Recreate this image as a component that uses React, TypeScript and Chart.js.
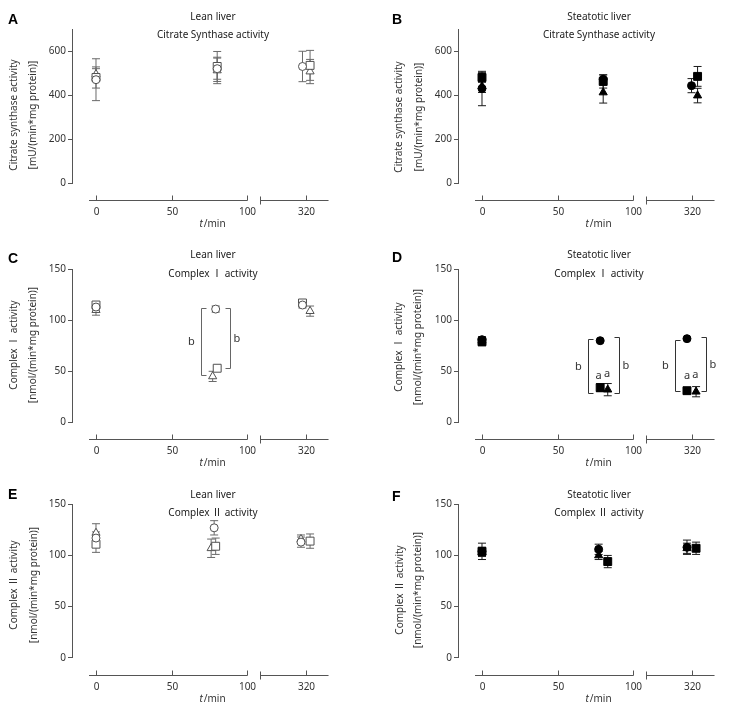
import React, { useEffect, useRef } from 'react';
import { Chart, registerables, LinearScale } from 'chart.js';

// ---------------- data ----------------
const TIME_TICKS = [0, 50, 100, 320];
const CS_TICKS = [0, 200, 400, 600];
const COMPLEX_TICKS = [0, 50, 100, 150];

// A: lean liver, citrate synthase
const A_CIRCLE_T = [0, 80, 318];
const A_CIRCLE_V = [470, 520, 530];
const A_CIRCLE_E = [95, 48, 69];
const A_SQUARE_T = [0, 80, 323];
const A_SQUARE_V = [480, 530, 535];
const A_SQUARE_E = [48, 68, 68];
const A_TRIANGLE_T = [0, 80, 323];
const A_TRIANGLE_V = [495, 512, 507];
const A_TRIANGLE_E = [25, 60, 55];

// B: steatotic liver, citrate synthase
const B_CIRCLE_T = [0, 80, 320];
const B_CIRCLE_V = [430, 472, 443];
const B_CIRCLE_E = [78, 20, 32];
const B_SQUARE_T = [0, 80, 324];
const B_SQUARE_V = [480, 462, 485];
const B_SQUARE_E = [22, 30, 45];
const B_TRIANGLE_T = [0, 80, 324];
const B_TRIANGLE_V = [440, 412, 398];
const B_TRIANGLE_E = [28, 48, 33];

// C: lean liver, complex I
const C_CIRCLE_T = [0, 79, 318];
const C_CIRCLE_V = [113, 111, 115];
const C_CIRCLE_E = [3, 3, 3];
const C_SQUARE_T = [0, 80, 318];
const C_SQUARE_V = [115, 53, 117];
const C_SQUARE_E = [3, 2, 3];
const C_TRIANGLE_T = [0, 77, 323];
const C_TRIANGLE_V = [110, 45, 109];
const C_TRIANGLE_E = [5, 5, 5];

// D: steatotic liver, complex I
const D_CIRCLE_T = [0, 78, 317];
const D_CIRCLE_V = [81, 80, 82];
const D_CIRCLE_E = [3, 1, 1];
const D_SQUARE_T = [0, 78, 317];
const D_SQUARE_V = [79, 34, 31];
const D_SQUARE_E = [4, 4, 2];
const D_TRIANGLE_T = [0, 83, 323];
const D_TRIANGLE_V = [80, 32, 30];
const D_TRIANGLE_E = [3, 6, 5];

// E: lean liver, complex II
const E_CIRCLE_T = [0, 78, 317];
const E_CIRCLE_V = [117, 127, 113];
const E_CIRCLE_E = [6, 7, 5];
const E_SQUARE_T = [0, 79, 323];
const E_SQUARE_V = [111, 109, 114];
const E_SQUARE_E = [8, 8, 7];
const E_TRIANGLE_T = [0, 76, 317];
const E_TRIANGLE_V = [122, 107, 116];
const E_TRIANGLE_E = [9, 9, 4];

// F: steatotic liver, complex II
const F_CIRCLE_T = [0, 77, 317];
const F_CIRCLE_V = [104, 106, 108];
const F_CIRCLE_E = [4, 5, 7];
const F_SQUARE_T = [0, 83, 323];
const F_SQUARE_V = [104, 94, 107];
const F_SQUARE_E = [8, 6, 6];
const F_TRIANGLE_T = [0, 77, 317];
const F_TRIANGLE_V = [103, 100, 107];
const F_TRIANGLE_E = [4, 4, 5];

// significance brackets and letters
const C_BRACKETS = [
  { t: 69.6, top: 112, bottom: 46, side: 'left', text: 'b' },
  { t: 88.3, top: 112, bottom: 53, side: 'right', text: 'b' },
];
const D_BRACKETS = [
  { t: 70, top: 81.7, bottom: 28.4, side: 'left', text: 'b' },
  { t: 90.2, top: 83.3, bottom: 28.4, side: 'right', text: 'b' },
  { t: 309.3, top: 80.5, bottom: 31, side: 'left', text: 'b' },
  { t: 329.6, top: 83.3, bottom: 31, side: 'right', text: 'b' },
];
const D_LETTERS = [
  { t: 77, y: 46, text: 'a' },
  { t: 82.5, y: 47.5, text: 'a' },
  { t: 317, y: 46, text: 'a' },
  { t: 322.5, y: 47, text: 'a' },
];

// ---------------- broken time axis ----------------
const BREAK_SHIFT = 181.7; // minutes skipped by the axis break
const toDisp = (v: number) => (v > 200 ? v - BREAK_SHIFT : v);
const X_MIN = -15.84; // display units
const X_MAX = 153.47;
const X_SEG1 = [-4.6, 100];
const X_SEG2 = [290, 335.2];
const X_SPAN_PX = 256.5;

class BrokenTimeScale extends LinearScale {
  static id = 'brokenTime';
  static defaults = LinearScale.defaults;
  getPixelForValue(value: any) {
    return super.getPixelForValue(value == null ? value : toDisp(value));
  }
}

Chart.register(...registerables, BrokenTimeScale);

const FONT = '"Noto Sans", "Noto Sans CJK SC", "DejaVu Sans", sans-serif';
const AXIS = '#555';
const TEXT = '#333';

type Series = { shape: string; t: number[]; v: number[]; e: number[] };
const RADIUS: Record<string, number> = { circle: 4, rect: 5.6, triangle: 4.7 };

function mk(shape: string, t: number[], v: number[], e: number[]): Series {
  return { shape, t, v, e };
}

interface Panel {
  letter: string;
  left: number;
  top: number;
  w: number;
  h: number;
  yAxisX: number;
  areaTop: number;
  areaBottom: number;
  yMax: number;
  yTicks: number[];
  title: string[];
  titleY: number[];
  letterY: number;
  yTitle: string[];
  yTitleX: number[];
  yTitleY: number;
  filled: boolean;
  series: Series[];
  brackets?: { t: number; top: number; bottom: number; side: string; text: string }[];
  letters?: { t: number; y: number; text: string }[];
}

const CS_YTITLE = ['Citrate synthase activity', '[mU/(min*mg protein)]'];
const C1_YTITLE = ['Complex \u2160 activity', '[nmol/(min*mg protein)]'];
const C2_YTITLE = ['Complex \u2161 activity', '[nmol/(min*mg protein)]'];

const PANELS: Panel[] = [
  {
    letter: 'A', left: 0, top: 0, w: 371, h: 240, yAxisX: 72, areaTop: 29, areaBottom: 183.3,
    yMax: 700, yTicks: CS_TICKS, title: ['Lean liver', 'Citrate Synthase activity'], titleY: [17, 35], letterY: 20,
    yTitle: CS_YTITLE, yTitleX: [14, 33], yTitleY: 115, filled: false,
    series: [
      mk('circle', A_CIRCLE_T, A_CIRCLE_V, A_CIRCLE_E),
      mk('rect', A_SQUARE_T, A_SQUARE_V, A_SQUARE_E),
      mk('triangle', A_TRIANGLE_T, A_TRIANGLE_V, A_TRIANGLE_E),
    ],
  },
  {
    letter: 'B', left: 371, top: 0, w: 371, h: 240, yAxisX: 87, areaTop: 29, areaBottom: 183.3,
    yMax: 700, yTicks: CS_TICKS, title: ['Steatotic liver', 'Citrate Synthase activity'], titleY: [17, 35], letterY: 20,
    yTitle: CS_YTITLE, yTitleX: [28, 48], yTitleY: 117, filled: true,
    series: [
      mk('circle', B_CIRCLE_T, B_CIRCLE_V, B_CIRCLE_E),
      mk('rect', B_SQUARE_T, B_SQUARE_V, B_SQUARE_E),
      mk('triangle', B_TRIANGLE_T, B_TRIANGLE_V, B_TRIANGLE_E),
    ],
  },
  {
    letter: 'C', left: 0, top: 240, w: 371, h: 230, yAxisX: 72, areaTop: 29.3, areaBottom: 182.3,
    yMax: 150, yTicks: COMPLEX_TICKS, title: ['Lean liver', 'Complex \u2160 activity'], titleY: [15, 34], letterY: 19,
    yTitle: C1_YTITLE, yTitleX: [14, 33], yTitleY: 105, filled: false,
    series: [
      mk('circle', C_CIRCLE_T, C_CIRCLE_V, C_CIRCLE_E),
      mk('rect', C_SQUARE_T, C_SQUARE_V, C_SQUARE_E),
      mk('triangle', C_TRIANGLE_T, C_TRIANGLE_V, C_TRIANGLE_E),
    ],
    brackets: C_BRACKETS,
  },
  {
    letter: 'D', left: 371, top: 240, w: 371, h: 230, yAxisX: 87, areaTop: 29.3, areaBottom: 182.3,
    yMax: 150, yTicks: COMPLEX_TICKS, title: ['Steatotic liver', 'Complex \u2160 activity'], titleY: [15, 34], letterY: 18,
    yTitle: C1_YTITLE, yTitleX: [28, 47], yTitleY: 107, filled: true,
    series: [
      mk('circle', D_CIRCLE_T, D_CIRCLE_V, D_CIRCLE_E),
      mk('rect', D_SQUARE_T, D_SQUARE_V, D_SQUARE_E),
      mk('triangle', D_TRIANGLE_T, D_TRIANGLE_V, D_TRIANGLE_E),
    ],
    brackets: D_BRACKETS,
    letters: D_LETTERS,
  },
  {
    letter: 'E', left: 0, top: 470, w: 371, h: 243, yAxisX: 72, areaTop: 34.3, areaBottom: 187.7,
    yMax: 150, yTicks: COMPLEX_TICKS, title: ['Lean liver', 'Complex \u2161 activity'], titleY: [25, 43], letterY: 25,
    yTitle: C2_YTITLE, yTitleX: [14, 34], yTitleY: 115, filled: false,
    series: [
      mk('circle', E_CIRCLE_T, E_CIRCLE_V, E_CIRCLE_E),
      mk('rect', E_SQUARE_T, E_SQUARE_V, E_SQUARE_E),
      mk('triangle', E_TRIANGLE_T, E_TRIANGLE_V, E_TRIANGLE_E),
    ],
  },
  {
    letter: 'F', left: 371, top: 470, w: 371, h: 243, yAxisX: 87, areaTop: 34.3, areaBottom: 187.7,
    yMax: 150, yTicks: COMPLEX_TICKS, title: ['Steatotic liver', 'Complex \u2161 activity'], titleY: [25, 43], letterY: 27,
    yTitle: C2_YTITLE, yTitleX: [29, 47], yTitleY: 120, filled: true,
    series: [
      mk('circle', F_CIRCLE_T, F_CIRCLE_V, F_CIRCLE_E),
      mk('rect', F_SQUARE_T, F_SQUARE_V, F_SQUARE_E),
      mk('triangle', F_TRIANGLE_T, F_TRIANGLE_V, F_TRIANGLE_E),
    ],
  },
];

function buildDatasets(p: Panel) {
  const stroke = p.filled ? '#000' : '#505050';
  const errColor = p.filled ? '#1a1a1a' : '#6a6a6a';
  const errs: any[] = [];
  p.series.forEach((s) => {
    s.t.forEach((t, i) => {
      errs.push({
        showLine: true,
        data: [
          { x: t, y: s.v[i] - s.e[i] },
          { x: t, y: s.v[i] + s.e[i] },
        ],
        borderColor: errColor,
        borderWidth: 1,
        pointStyle: 'line',
        pointRadius: 4,
        pointBorderColor: errColor,
        pointBorderWidth: 1,
        order: 2,
      });
    });
  });
  const marks = p.series.map((s) => ({
    data: s.t.map((t, i) => ({ x: t, y: s.v[i] })),
    pointStyle: s.shape,
    pointRadius: RADIUS[s.shape],
    pointBackgroundColor: p.filled ? '#000' : '#fff',
    pointBorderColor: stroke,
    pointBorderWidth: 1,
    showLine: false,
    order: 1,
  }));
  return [...errs, ...marks];
}

function decorPlugin(p: Panel) {
  return {
    id: 'decor' + p.letter,
    afterDraw(chart: any) {
      const { ctx, chartArea: a } = chart;
      const xs = chart.scales.x;
      const ys = chart.scales.y;
      const px = (t: number) => xs.getPixelForValue(t);
      const py = (v: number) => ys.getPixelForValue(v);
      const line = (x1: number, y1: number, x2: number, y2: number) => {
        ctx.beginPath();
        ctx.moveTo(x1, y1);
        ctx.lineTo(x2, y2);
        ctx.stroke();
      };
      ctx.save();
      ctx.strokeStyle = AXIS;
      ctx.lineWidth = 1;
      // broken x axis
      const ly = Math.round(a.bottom + 17) + 0.5;
      line(px(X_SEG1[0]), ly, px(X_SEG1[1]), ly);
      line(px(X_SEG2[0]), ly, px(X_SEG2[1]), ly);
      const bx = Math.round(px(X_SEG2[0])) + 0.5;
      line(bx, ly - 4, bx, ly + 4);
      ctx.fillStyle = TEXT;
      ctx.font = `10px ${FONT}`;
      ctx.textAlign = 'center';
      ctx.textBaseline = 'middle';
      TIME_TICKS.forEach((t) => {
        const x = Math.round(px(t)) + 0.5;
        line(x, ly - 5, x, ly);
        ctx.fillText(String(t), x, ly + 12);
      });
      // x title: t/min
      ctx.font = `italic 10px ${FONT}`;
      const w1 = ctx.measureText('t').width;
      ctx.font = `10px ${FONT}`;
      const w2 = ctx.measureText('/min').width;
      const cx = p.yAxisX + 140.5;
      const sx = cx - (w1 + w2 + 1) / 2;
      ctx.textAlign = 'left';
      ctx.font = `italic 10px ${FONT}`;
      ctx.fillText('t', sx, ly + 24);
      ctx.font = `10px ${FONT}`;
      ctx.fillText('/min', sx + w1 + 1, ly + 24);
      // titles
      ctx.fillStyle = '#222';
      ctx.textAlign = 'center';
      ctx.font = `10px ${FONT}`;
      ctx.fillText(p.title[0], p.yAxisX + 141, p.titleY[0]);
      ctx.fillText(p.title[1], p.yAxisX + 141, p.titleY[1]);
      // panel letter
      ctx.fillStyle = '#000';
      ctx.textAlign = 'left';
      ctx.font = `bold 14px "Liberation Sans", Arial, sans-serif`;
      ctx.fillText(p.letter, p.letter < 'B' || p.left === 0 ? 8 : 21, p.letterY);
      // y title
      ctx.fillStyle = TEXT;
      ctx.font = `10px ${FONT}`;
      ctx.textAlign = 'center';
      p.yTitle.forEach((txt, i) => {
        ctx.save();
        ctx.translate(p.yTitleX[i], p.yTitleY);
        ctx.rotate(-Math.PI / 2);
        ctx.fillText(txt, 0, 0);
        ctx.restore();
      });
      // brackets
      const bcol = p.filled ? '#333' : '#666';
      ctx.strokeStyle = bcol;
      ctx.fillStyle = '#333';
      ctx.font = `11px ${FONT}`;
      (p.brackets || []).forEach((b) => {
        const x = Math.round(px(b.t)) + 0.5;
        const y1 = Math.round(py(b.top)) + 0.5;
        const y2 = Math.round(py(b.bottom)) + 0.5;
        const d = b.side === 'left' ? 5 : -5;
        ctx.beginPath();
        ctx.moveTo(x + d, y1);
        ctx.lineTo(x, y1);
        ctx.lineTo(x, y2);
        ctx.lineTo(x + d, y2);
        ctx.stroke();
        ctx.fillText(b.text, b.side === 'left' ? x - 10 : x + 6.5, (y1 + y2) / 2);
      });
      (p.letters || []).forEach((l) => {
        ctx.fillText(l.text, px(l.t), py(l.y));
      });
      ctx.restore();
    },
  };
}

function PanelChart({ p }: { p: Panel }) {
  const ref = useRef<HTMLCanvasElement>(null);
  useEffect(() => {
    if (!ref.current) return;
    const chart = new Chart(ref.current, {
      type: 'scatter',
      data: { datasets: buildDatasets(p) as any },
      options: {
        animation: false,
        responsive: false,
        events: [],
        layout: {
          padding: {
            left: 0,
            top: p.areaTop,
            right: p.w - (p.yAxisX + X_SPAN_PX),
            bottom: p.h - p.areaBottom,
          },
        },
        plugins: { legend: { display: false }, tooltip: { enabled: false } },
        scales: {
          x: { type: 'brokenTime' as any, display: false, min: X_MIN, max: X_MAX },
          y: {
            type: 'linear',
            position: 'left',
            min: 0,
            max: p.yMax,
            afterBuildTicks: (s: any) => {
              s.ticks = p.yTicks.map((v) => ({ value: v }));
            },
            afterFit: (s: any) => {
              s.width = p.yAxisX;
            },
            grid: { drawOnChartArea: false, drawTicks: true, tickLength: 4, color: AXIS, lineWidth: 1 },
            border: { display: true, color: AXIS, width: 1 },
            ticks: { padding: 2, color: TEXT, font: { family: FONT, size: 10 } },
          },
        },
      } as any,
      plugins: [decorPlugin(p)],
    });
    return () => chart.destroy();
  }, [p]);
  return (
    <canvas
      ref={ref}
      width={p.w}
      height={p.h}
      style={{ position: 'absolute', left: p.left, top: p.top, width: p.w, height: p.h }}
    />
  );
}

export default function App() {
  return (
    <div style={{ position: 'absolute', left: 0, top: 0, width: 742, height: 713, background: '#fff' }}>
      {PANELS.map((p) => (
        <PanelChart key={p.letter} p={p} />
      ))}
    </div>
  );
}
